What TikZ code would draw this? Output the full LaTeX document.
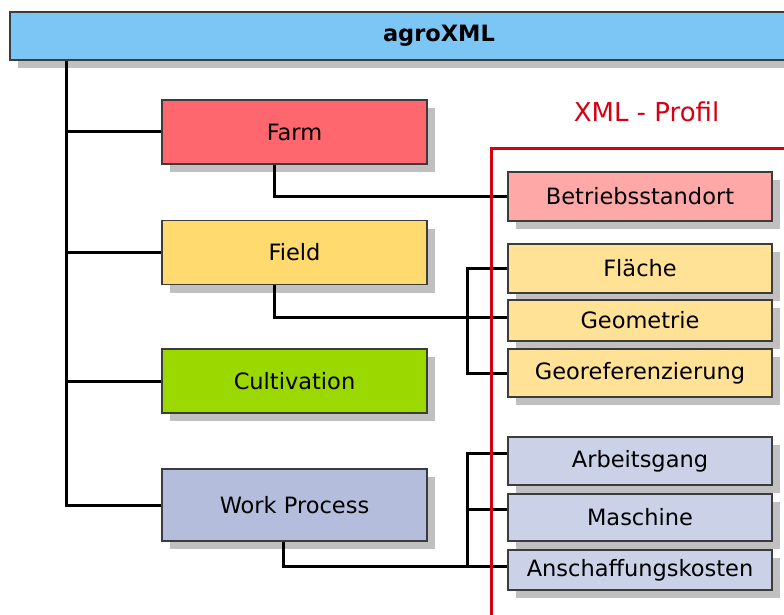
\documentclass[tikz,border=0pt]{standalone}
\usepackage{fontspec}
\setsansfont{DejaVu Sans}
\usepackage{xcolor}
\usepackage{tikz}
\usetikzlibrary{positioning,calc,shadows}
\definecolor{barblue}{RGB}{124,198,246}
\definecolor{farmred}{RGB}{255,103,110}
\definecolor{fieldyellow}{RGB}{255,218,110}
\definecolor{cultgreen}{RGB}{155,216,0}
\definecolor{workblue}{RGB}{180,190,220}
\definecolor{softred}{RGB}{255,168,168}
\definecolor{softyellow}{RGB}{255,226,150}
\definecolor{softblue}{RGB}{203,209,230}
\definecolor{framered}{RGB}{212,0,20}
\definecolor{edgegray}{RGB}{60,60,60}
\definecolor{shadowgray}{RGB}{192,192,192}

\begin{document}
\begin{tikzpicture}[x=1pt, y=-1pt, font=\sffamily\fontsize{22.5}{26}\selectfont]
\tikzstyle{b}=[draw=edgegray, line width=1.2pt, inner sep=0pt, align=center, drop shadow={shadow xshift=8pt, shadow yshift=-8pt, fill=shadowgray, opacity=1}]
\tikzstyle{l}=[b, minimum width=265pt, minimum height=64pt]
\tikzstyle{r}=[b, minimum width=264pt]
\tikzstyle{link}=[line width=3pt, black]
\useasboundingbox (0,0) rectangle (784,615);
\clip (0,0) rectangle (784,615);
\node[b, fill=barblue, minimum width=858pt, minimum height=48pt, font=\sffamily\bfseries\fontsize{22.5}{26}\selectfont] (agro) at (439,36) {agroXML};
\node[l, fill=farmred] (farm) at (294.5,132) {Farm};
\node[l, fill=fieldyellow] (field) at (294.5,252.5) {Field};
\node[l, fill=cultgreen] (cult) at (294.5,381) {Cultivation};
\node[l, fill=workblue, minimum height=72pt] (work) at (294.5,505) {Work Process};
\node[r, fill=softred, minimum height=49pt] (betrieb) at (640,196.5) {Betriebsstandort};
\node[r, fill=softyellow, minimum height=49pt] (flaeche) at (640,268.5) {Fläche};
\node[r, fill=softyellow, minimum height=41pt] (geom) at (640,320.5) {Geometrie};
\node[r, fill=softyellow, minimum height=48pt] (georef) at (640,373) {Georeferenzierung};
\node[r, fill=softblue, minimum height=48pt] (arbeit) at (640,461) {Arbeitsgang};
\node[r, fill=softblue, minimum height=47pt] (masch) at (640,517.5) {Maschine};
\node[r, fill=softblue, minimum height=40pt] (kosten) at (640,570) {Anschaffungskosten};
\node[text=framered, font=\sffamily\fontsize{26}{30}\selectfont] (profil) at (646.5,112) {XML - Profil};
\coordinate (trunk) at (66,0);
\coordinate (busA) at (467,0);
\coordinate (busB) at (467,0);
\coordinate (maschin) at ([yshift=8pt]masch.west);
\draw[link] (trunk |- agro.south) -- (trunk |- work.west) -- (work.west);
\draw[link] (trunk |- farm.west) -- (farm.west);
\draw[link] (trunk |- field.west) -- (field.west);
\draw[link] (trunk |- cult.west) -- (cult.west);
\draw[link] ([xshift=-20pt]farm.south) |- (betrieb.west);
\draw[link] ([xshift=-20pt]field.south) |- ([yshift=3pt]geom.west);
\draw[link] (flaeche.west) -| (busA |- georef.west) -- (georef.west);
\draw[link] ([xshift=-11pt]work.south) |- ([yshift=4pt]kosten.west);
\draw[link] ([yshift=8pt]arbeit.west) -| ([yshift=4pt]busB |- kosten.west);
\draw[link] (maschin) -- (busB |- maschin);
\draw[framered, line width=3pt] (800,148) -| (491,630);
\end{tikzpicture}
\end{document}
